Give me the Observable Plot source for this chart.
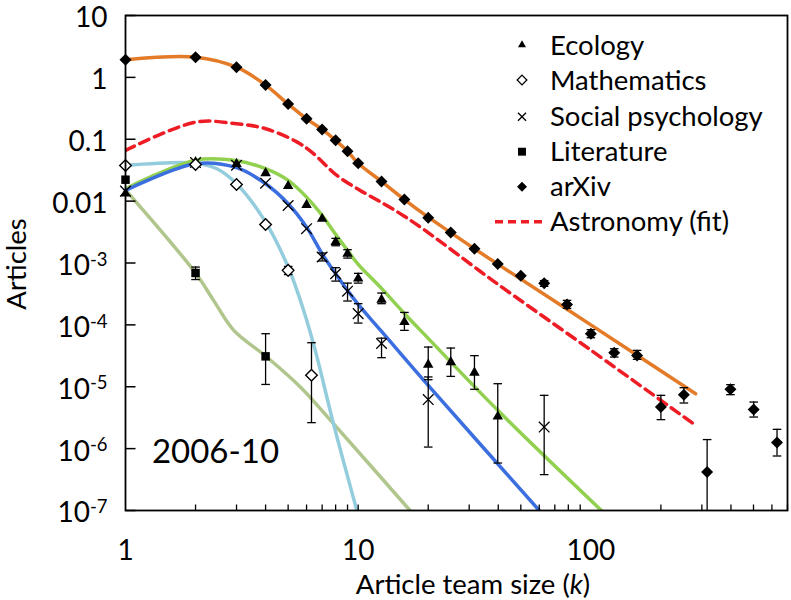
<!DOCTYPE html>
<html><head><meta charset="utf-8">
<script src="https://cdn.jsdelivr.net/npm/d3@7"></script>
<script src="https://cdn.jsdelivr.net/npm/@observablehq/plot@0.6"></script>
<style>
body{margin:0;background:#fff;}
#chart{position:relative;width:791px;height:600px;}
</style></head><body><div id="chart"></div>
<script>
// ---------- data ----------
const ecologyK = [1, 2, 3, 4, 5, 6, 7, 8, 9, 10, 12.6, 15.8, 20, 25, 31.6, 39.8];
const ecologyV = [0.0133, 0.0427, 0.040, 0.0283, 0.0175, 0.0087, 0.0052, 0.00218, 0.00141, 5.6e-4, 2.55e-4, 1.11e-4, 2.28e-5, 2.5e-5, 1.69e-5, 3.3e-6];
const ecologyErrK = [8, 9, 10, 12.6, 15.8, 20, 25, 31.6, 39.8];
const ecologyErrHi = [2.5e-3, 1.64e-3, 6.8e-4, 3.27e-4, 1.59e-4, 4.38e-5, 4.22e-5, 3.18e-5, 1.12e-5];
const ecologyErrLo = [1.9e-3, 1.2e-3, 4.73e-4, 2.2e-4, 8.15e-5, 1.30e-5, 1.47e-5, 9.1e-6, 5.85e-7];

const mathK = [1, 2, 3, 4, 5, 6.3];
const mathV = [0.0377, 0.039, 0.0186, 0.0042, 7.6e-4, 1.53e-5];
const mathErrK = [5, 6.3];
const mathErrHi = [8.8e-4, 5.15e-5];
const mathErrLo = [6.5e-4, 2.63e-6];

const socialK = [1, 2, 3, 4, 5, 6, 7, 8, 9, 10, 12.6, 20, 63];
const socialV = [0.0145, 0.042, 0.038, 0.0195, 0.0085, 0.00358, 0.00125, 6.7e-4, 3.5e-4, 1.52e-4, 5.0e-5, 6.2e-6, 2.23e-6];
const socialErrK = [7, 8, 9, 10, 12.6, 20, 63];
const socialErrHi = [1.45e-3, 8.4e-4, 4.73e-4, 2.2e-4, 6.1e-5, 1.44e-5, 7.26e-6];
const socialErrLo = [1.08e-3, 5.1e-4, 2.43e-4, 1.07e-4, 2.95e-5, 1.06e-6, 3.8e-7];

const literatureK = [1, 2, 4];
const literatureV = [0.0222, 6.9e-4, 3.1e-5];
const literatureErrK = [2, 4];
const literatureErrHi = [8.6e-4, 7.2e-5];
const literatureErrLo = [5.4e-4, 1.09e-5];

const arxivK = [1, 2, 3, 4, 5, 6, 7, 8, 9, 10, 12.6, 15.8, 20, 25, 31.6, 39.8, 50, 63, 79, 100, 126, 158, 200, 251, 316, 398, 501, 631];
const arxivV = [1.92, 2.12, 1.46, 0.75, 0.37, 0.214, 0.144, 0.096, 0.064, 0.041, 0.0208, 0.0106, 0.0054, 0.0031, 0.0017, 0.00096, 0.00062, 4.7e-4, 2.14e-4, 7.2e-5, 3.56e-5, 3.2e-5, 4.7e-6, 7.4e-6, 4.2e-7, 9.1e-6, 4.3e-6, 1.26e-6];
const arxivErrK = [63, 79, 100, 126, 158, 200, 251, 316, 398, 501, 631];
const arxivErrHi = [5.2e-4, 2.49e-4, 8.36e-5, 4.12e-5, 3.87e-5, 7.26e-6, 9.66e-6, 1.40e-6, 1.08e-5, 5.66e-6, 2.05e-6];
const arxivErrLo = [4.2e-4, 1.85e-4, 6.2e-5, 3.02e-5, 2.77e-5, 2.94e-6, 5.46e-6, 5e-8, 7.45e-6, 3.24e-6, 7.6e-7];

// fitted curves
const arxivFitK = [1, 2, 3, 4, 5, 6, 7, 8, 9, 10, 12.6, 15.8, 20, 25, 31.6, 39.8, 100, 282];
const arxivFitV = [1.92, 2.12, 1.46, 0.75, 0.37, 0.214, 0.144, 0.096, 0.064, 0.041, 0.0208, 0.0106, 0.0055, 0.0031, 0.0017, 0.00096, 1.0e-4, 7.7e-6];
const astroFitK = [1, 2, 3, 4, 5.47, 6.41, 8.1, 10.2, 12.8, 15.6, 19.4, 37.9, 100, 282];
const astroFitV = [0.0659, 0.189, 0.178, 0.148, 0.0898, 0.059, 0.026, 0.0149, 0.0092, 0.00587, 0.00336, 5.2e-4, 3.9e-5, 2.38e-6];
const ecologyFitK = [1, 2, 3, 4, 5, 6, 7, 8, 9, 10, 12.6, 15.8, 20, 39.8, 111];
const ecologyFitV = [0.0158, 0.046, 0.045, 0.0334, 0.0216, 0.0116, 0.00587, 0.0029, 0.0016, 9.5e-4, 3.89e-4, 1.53e-4, 6.05e-5, 4.16e-6, 1e-7];
const socialFitK = [1, 2, 3, 4, 5, 6, 7, 8, 9, 10, 12.6, 20, 60];
const socialFitV = [0.0149, 0.0402, 0.0347, 0.0191, 0.00908, 0.0038, 0.00141, 6.7e-4, 3.6e-4, 2.14e-4, 7.85e-5, 1.05e-5, 1e-7];
const mathFitK = [1, 2, 2.47, 3, 4, 5, 5.83, 6.54, 7.83, 9.87];
const mathFitV = [0.0377, 0.0411, 0.0334, 0.0191, 0.00458, 8.6e-4, 1.71e-4, 3.87e-5, 2.53e-6, 1e-7];
const literatureFitK = [1, 2, 2.39, 2.92, 4.05, 5.64, 7.83, 16.7];
const literatureFitV = [0.0152, 6.9e-4, 2.49e-4, 8.15e-5, 3.02e-5, 9.9e-6, 2.53e-6, 1e-7];

const xTickLabels = [1, 10, 100];
const xMinorTicks = [2,3,4,5,6,7,8,9,10,20,30,40,50,60,70,80,90,200,300,400,500,600,700];
const yTicks = [10, 1, 0.1, 0.01, 1e-3, 1e-4, 1e-5, 1e-6, 1e-7];
const legendNames = ["Ecology", "Mathematics", "Social psychology", "Literature", "arXiv", "Astronomy (fit)"];
const periodLabel = "2006-10";

// ---------- helpers ----------
const FONT = "Lato, 'Open Sans', sans-serif";
const zip = (ks, vs) => ks.map((k, i) => ({k, v: vs[i]}));
const errs = (ks, hi, lo) => ks.map((k, i) => ({k, hi: hi[i], lo: lo[i]}));
const hline = {draw(ctx, size) { const w = Math.sqrt(size / Math.PI); ctx.moveTo(-w, 0); ctx.lineTo(w, 0); }};
const vline = {draw(ctx, size) { const h = Math.sqrt(size / Math.PI); ctx.moveTo(0, -h); ctx.lineTo(0, h); }};

const allErr = [
  ...errs(ecologyErrK, ecologyErrHi, ecologyErrLo),
  ...errs(mathErrK, mathErrHi, mathErrLo),
  ...errs(socialErrK, socialErrHi, socialErrLo),
  ...errs(literatureErrK, literatureErrHi, literatureErrLo),
  ...errs(arxivErrK, arxivErrHi, arxivErrLo)
];
const caps = allErr.flatMap(d => [{k: d.k, v: d.hi}, {k: d.k, v: d.lo}]);

const C = {
  orange: "#e37b28", red: "#ee1c25", green: "#92d050", blue: "#3b6fe0",
  light: "#93cddd", olive: "#b1c68c"
};
const fitLine = (ks, vs, color, extra = {}) =>
  Plot.line(zip(ks, vs), {x: "k", y: "v", stroke: color, strokeWidth: 3.5, curve: "catmull-rom", clip: true, ...extra});

const chart = Plot.plot({
  width: 791, height: 600,
  marginLeft: 125, marginRight: 4, marginTop: 15, marginBottom: 90,
  style: {fontFamily: FONT, fontSize: "28px", color: "black", background: "white", overflow: "visible"},
  x: {type: "log", domain: [1, 700], axis: null},
  y: {type: "log", domain: [1e-7, 10], axis: null},
  marks: [
    fitLine(literatureFitK, literatureFitV, C.olive),
    fitLine(mathFitK, mathFitV, C.light),
    fitLine(ecologyFitK, ecologyFitV, C.green),
    fitLine(socialFitK, socialFitV, C.blue),
    fitLine(astroFitK, astroFitV, C.red, {strokeDasharray: "10,6"}),
    fitLine(arxivFitK, arxivFitV, C.orange),
    Plot.ruleX(allErr, {x: "k", y1: "lo", y2: "hi", stroke: "black", strokeWidth: 1.3, clip: true}),
    Plot.dot(caps, {x: "k", y: "v", symbol: hline, r: 4.3, fill: "none", stroke: "black", strokeWidth: 1.3, clip: true}),
    Plot.dot(zip(literatureK, literatureV), {x: "k", y: "v", symbol: "square2", r: 5.4, fill: "black", stroke: "none"}),
    Plot.dot(zip(ecologyK, ecologyV), {x: "k", y: "v", symbol: "triangle2", r: 5, fill: "black", stroke: "none"}),
    Plot.dot(zip(socialK, socialV), {x: "k", y: "v", symbol: "times", r: 4.9, fill: "none", stroke: "black", strokeWidth: 1.3}),
    Plot.dot(zip(mathK, mathV), {x: "k", y: "v", symbol: "diamond2", r: 5.2, fill: "white", stroke: "black", strokeWidth: 1.4}),
    Plot.dot(zip(arxivK, arxivV), {x: "k", y: "v", symbol: "diamond2", r: 5.4, fill: "black", stroke: "none"}),
    // axes
    Plot.dot(xMinorTicks, {x: d => d, frameAnchor: "bottom", dy: -3, symbol: vline, r: 3, fill: "none", stroke: "black", strokeWidth: 1.3}),
    Plot.dot(yTicks, {y: d => d, frameAnchor: "left", dx: 5, symbol: hline, r: 5, fill: "none", stroke: "black", strokeWidth: 1.5}),
    Plot.axisX({ticks: xTickLabels, tickSize: 0, tickPadding: 30, tickFormat: d => String(d), label: null}),
    Plot.axisY({ticks: yTicks, tickSize: 0, tickPadding: 18, dy: 3, label: null,
      tickFormat: d => d >= 0.01 ? String(+d.toPrecision(1)) : "10^" + Math.round(Math.log10(d))}),
    Plot.frame({stroke: "black", strokeWidth: 1.8}),
    Plot.text([periodLabel], {frameAnchor: "bottom-left", dx: 90, dy: -58, text: d => d, fontSize: 33, textAnchor: "middle", lineAnchor: "middle"})
  ]
});
document.getElementById("chart").appendChild(chart);

// superscripts for y tick labels
const svg = d3.select(chart.tagName.toLowerCase() === "svg" ? chart : chart.querySelector("svg"));
svg.selectAll("text").each(function() {
  const t = this.textContent;
  if (t.startsWith("10^")) {
    const exp = t.slice(3);
    const sel = d3.select(this);
    sel.text("");
    sel.append("tspan").text("10");
    sel.append("tspan").attr("dy", "-0.5em").attr("font-size", "0.66em").text(exp);
  }
});

// axis titles
svg.append("text").attr("transform", "translate(26,264) rotate(-90)")
  .attr("text-anchor", "middle").attr("font-size", 27.5).text("Articles");
const xl = svg.append("text").attr("x", 473).attr("y", 594).attr("text-anchor", "middle").attr("font-size", 27.5);
xl.append("tspan").text("Article team size (");
xl.append("tspan").attr("font-style", "italic").text("k");
xl.append("tspan").text(")");

// legend
const lg = svg.append("g").attr("font-size", 27.5).attr("text-anchor", "start");
const rows = [45, 80, 116.7, 151.7, 186.7, 221.7];
const lsym = [
  {type: d3.symbolTriangle2, size: 46, fill: "black", stroke: "none"},
  {type: d3.symbolDiamond2, size: 60, fill: "white", stroke: "black"},
  {type: d3.symbolTimes, size: 44, fill: "none", stroke: "black"},
  {type: d3.symbolSquare2, size: 80, fill: "black", stroke: "none"},
  {type: d3.symbolDiamond2, size: 64, fill: "black", stroke: "none"}
];
legendNames.forEach((name, i) => {
  const y = rows[i];
  if (i < 5) {
    const s = lsym[i];
    lg.append("path").attr("transform", `translate(522,${y})`)
      .attr("d", d3.symbol().type(s.type).size(s.size)())
      .attr("fill", s.fill).attr("stroke", s.stroke).attr("stroke-width", 1.3);
  } else {
    lg.append("line").attr("x1", 495).attr("x2", 547).attr("y1", y).attr("y2", y)
      .attr("stroke", C.red).attr("stroke-width", 3.5).attr("stroke-dasharray", "8,5");
  }
  lg.append("text").attr("x", 550).attr("y", y).attr("dy", "0.35em").attr("text-anchor", "start").text(name);
});
</script></body></html>
